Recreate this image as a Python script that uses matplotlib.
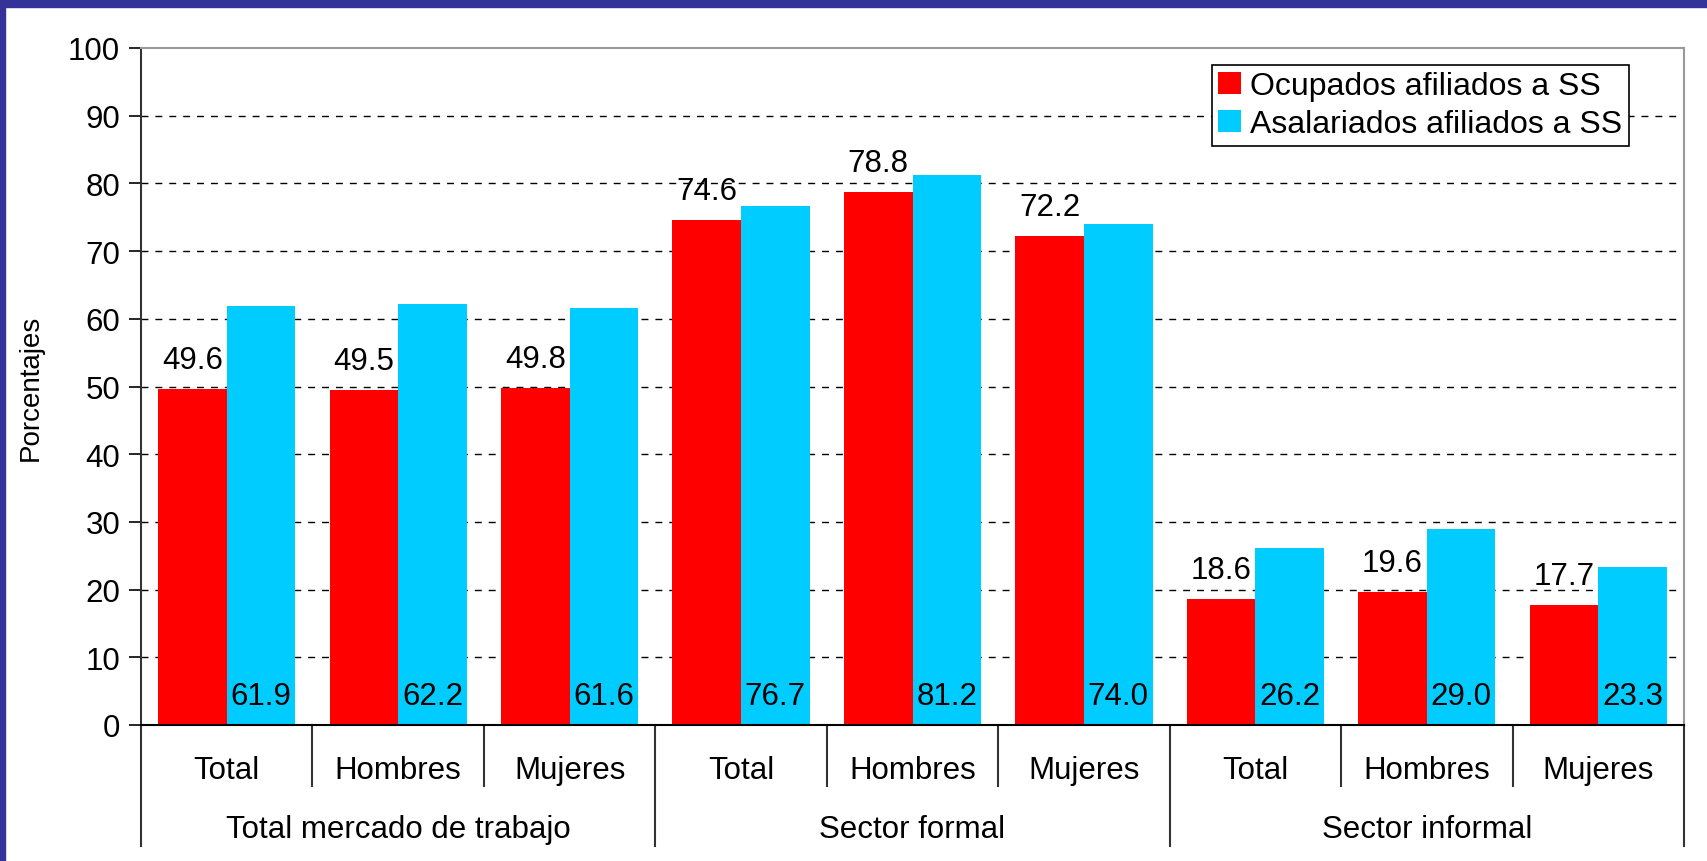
import matplotlib
matplotlib.use("Agg")
import matplotlib.pyplot as plt
from matplotlib.patches import Rectangle
import numpy as np

# ─── data ────────────────────────────────────────────────────────────────────
categories = ["Total", "Hombres", "Mujeres"] * 3
groups = ["Total mercado de trabajo", "Sector formal", "Sector informal"]
ocupados = [49.6, 49.5, 49.8, 74.6, 78.8, 72.2, 18.6, 19.6, 17.7]
asalariados = [61.9, 62.2, 61.6, 76.7, 81.2, 74.0, 26.2, 29.0, 23.3]
series_names = ["Ocupados afiliados a SS", "Asalariados afiliados a SS"]

C_RED = "#FF0000"
C_BLUE = "#00CCFF"
C_FRAME = "#333399"

plt.rcParams["font.family"] = ["Liberation Sans", "DejaVu Sans"]

fig = plt.figure(figsize=(17.07, 8.62), dpi=100)
W, H = 1707, 862

# blue frame along top and left edge
fig.patches.append(Rectangle((0, 1 - 7.5 / H), 1, 7.5 / H, transform=fig.transFigure,
                             color=C_FRAME, zorder=0))
fig.patches.append(Rectangle((0, 0), 5 / W, 1, transform=fig.transFigure,
                             color=C_FRAME, zorder=0))

ax = fig.add_axes([141 / W, 1 - 726 / H, (1684 - 141) / W, (726 - 49) / H])

x = np.arange(len(categories))
bw = 0.4
ax.bar(x - bw / 2, ocupados, bw, color=C_RED, label=series_names[0], zorder=2)
ax.bar(x + bw / 2, asalariados, bw, color=C_BLUE, label=series_names[1], zorder=2)

for xi, v in zip(x, ocupados):
    ax.annotate(f"{v:.1f}", (xi - bw / 2, v), xytext=(0, 10), textcoords="offset points",
                ha="center", va="bottom", fontsize=22.5)
for xi, v in zip(x, asalariados):
    ax.text(xi + bw / 2, 4.3, f"{v:.1f}", ha="center", va="center", fontsize=22.5, zorder=3)

ax.set_xlim(-0.5, len(categories) - 0.5)
ax.set_ylim(0, 100)
ax.set_yticks(range(0, 101, 10))
ax.tick_params(axis="y", labelsize=22.5, length=9, width=1.2, pad=6)
ax.set_xticks([])
for y in range(10, 100, 10):
    ax.axhline(y, color="black", ls=(0, (5, 5)), lw=1, zorder=1)

ax.spines["left"].set_color("#333333")
ax.spines["left"].set_linewidth(1.5)
ax.spines["bottom"].set_color("black")
ax.spines["bottom"].set_linewidth(1.5)
for s in ("top", "right"):
    ax.spines[s].set_color("#999999")
    ax.spines[s].set_linewidth(1.5)

ax.set_ylabel("Porcentajes", fontsize=20)
ax.yaxis.set_label_coords(-0.063, 0.5)

# multi-level category axis
tr = ax.get_xaxis_transform()
for xi, lab in zip(x, categories):
    ax.text(xi, -0.067, lab, transform=tr, ha="center", va="center", fontsize=22.5)
for i, g in enumerate(groups):
    ax.text(3 * i + 1, -0.154, g, transform=tr, ha="center", va="center", fontsize=22.5)
for b in np.arange(-0.5, len(categories), 1.0):
    bottom = -0.178 if (b + 0.5) % 3 == 0 else -0.09
    ax.plot([b, b], [0, bottom], transform=tr, color="#333333", lw=1.5, clip_on=False)

leg = ax.legend(loc="upper left", bbox_to_anchor=(0.694, 0.975), fontsize=23,
                frameon=True, fancybox=False, edgecolor="black", framealpha=1,
                handlelength=0.7, handleheight=0.7, handletextpad=0.3,
                borderpad=0.2, labelspacing=0.25, borderaxespad=0)
leg.get_frame().set_linewidth(1.2)

fig.savefig("out.png", dpi=100)
